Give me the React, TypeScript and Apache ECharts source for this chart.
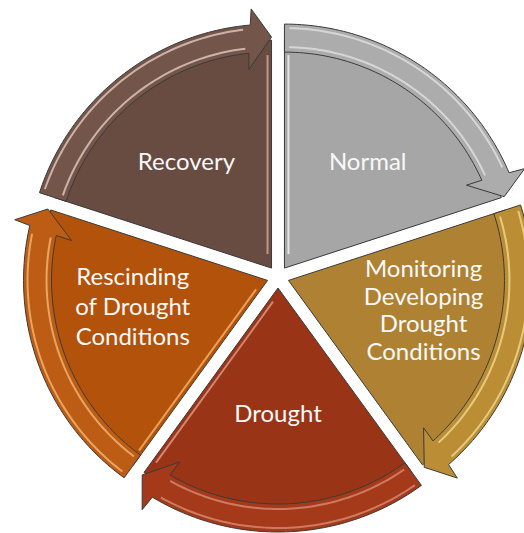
import React, { useEffect, useRef } from "react";
import * as echarts from "echarts";

// ---- data ----
const stages = [
  "Normal",
  "Monitoring\nDeveloping\nDrought\nConditions",
  "Drought",
  "Rescinding\nof Drought\nConditions",
  "Recovery",
];
const stageShares = [1, 1, 1, 1, 1];

// ---- styles ----
const sliceColors = ["#a6a6a6", "#ae8232", "#9a3416", "#b3520b", "#684b41"];
const arrowColors = ["#acacac", "#bb8e36", "#a43a1a", "#bd5c14", "#735549"];
const arrowShine = ["#e4e4e4", "#f6dc94", "#dc9078", "#f8be78", "#ead2ca"];
const edgeShine = ["#f4f4f4", "#d9b060", "#e09a86", "#f6b46a", "#d8a89a"];
const edgeShineSide = ["start", "none", "end", "start", "end"];

// ---- layout ----
const CX = 278;
const CY = 277;
const EXPLODE = 11;
const R_SLICE = 228;
const R_IN = 216;
const R_OUT = 244;
const R_WING_IN = 200;
const R_WING_OUT = 260;
const R_TIP = 231;
const labelRadii = [147, 149, 135, 148, 148];
const labelAngles = [37.6, 102.4, 180, 259, 321.8];
const labelLineHeights = [28, 27.5, 28, 30, 28];

function slices() {
  const total = stageShares.reduce((a, b) => a + b, 0);
  let acc = 0;
  return stageShares.map((v) => {
    const start = (acc / total) * 360;
    acc += v;
    const end = (acc / total) * 360;
    return { start, end, mid: (start + end) / 2 };
  });
}

function pt(ax: number, ay: number, r: number, deg: number) {
  const a = (deg * Math.PI) / 180;
  return [ax + r * Math.sin(a), ay - r * Math.cos(a)];
}

export default function App() {
  const ref = useRef<HTMLDivElement>(null);
  useEffect(() => {
    if (!ref.current) return;
    const chart = echarts.init(ref.current, undefined, { renderer: "svg" });
    const segs = slices();

    const renderArrow = (params: any) => {
      const i = params.dataIndex;
      const s = segs[i];
      const [ax, ay] = pt(CX, CY, EXPLODE, s.mid);
      const P = (r: number, d: number) => pt(ax, ay, r, d);
      const neckOut = s.end - 5.0;
      const neckIn = s.end - 6.0;
      const pts: number[][] = [];
      for (let d = s.start; d < neckOut; d += 1) pts.push(P(R_OUT, d));
      pts.push(P(R_OUT, neckOut));
      pts.push(P(R_WING_OUT, s.end - 4.5));
      pts.push(P(R_TIP, s.end));
      pts.push(P(R_WING_IN, s.end - 6.5));
      pts.push(P(R_IN, neckIn));
      for (let d = neckIn; d > s.start; d -= 1) pts.push(P(R_IN, d));
      pts.push(P(R_IN, s.start));

      const stripe = (r: number) => {
        const sp: number[][] = [];
        for (let d = s.start + 1.2; d < neckOut - 1; d += 1) sp.push(P(r, d));
        return sp;
      };

      const children: any[] = [
        {
          type: "polygon",
          shape: { points: pts },
          style: { fill: arrowColors[i], stroke: "#3a3a3a", lineWidth: 1 },
        },
        {
          type: "polyline",
          shape: { points: stripe(R_OUT - 4) },
          style: { fill: "none", stroke: arrowShine[i], lineWidth: 2, opacity: 0.75 },
        },
        {
          type: "polyline",
          shape: { points: stripe(R_IN + 5) },
          style: { fill: "none", stroke: arrowShine[i], lineWidth: 2, opacity: 0.75 },
        },
      ];

      const side = edgeShineSide[i];
      if (side !== "none") {
        const th = side === "start" ? s.start : s.end;
        const a = (th * Math.PI) / 180;
        const sign = side === "start" ? 1 : -1;
        const ox = sign * 4 * Math.cos(a);
        const oy = sign * 4 * Math.sin(a);
        const p1 = P(14, th);
        const p2 = P(R_IN - 3, th);
        children.push({
          type: "line",
          shape: { x1: p1[0] + ox, y1: p1[1] + oy, x2: p2[0] + ox, y2: p2[1] + oy },
          style: { stroke: edgeShine[i], lineWidth: 2, opacity: 0.8 },
        });
      }

      const [lx, ly] = pt(CX, CY, labelRadii[i], labelAngles[i]);
      children.push({
        type: "text",
        x: lx,
        y: ly,
        style: {
          text: stages[i],
          fill: "#f8f8f8",
          fontFamily: "Lato",
          fontSize: 24,
          lineHeight: labelLineHeights[i],
          align: "center",
          verticalAlign: "middle",
        },
      });
      return { type: "group", children };
    };

    chart.setOption({
      animation: false,
      series: [
        {
          type: "pie",
          center: [CX, CY],
          radius: [0, R_SLICE],
          startAngle: 90,
          clockwise: true,
          selectedMode: "multiple",
          selectedOffset: EXPLODE,
          silent: true,
          z: 2,
          emphasis: { disabled: true },
          itemStyle: { borderColor: "#3a3a3a", borderWidth: 1 },
          label: { show: false },
          labelLine: { show: false },
          data: stages.map((name, i) => ({
            name,
            value: stageShares[i],
            selected: true,
            itemStyle: { color: sliceColors[i] },
            select: { itemStyle: { color: sliceColors[i], borderColor: "#3a3a3a", borderWidth: 1 } },
          })),
        },
        {
          type: "custom",
          coordinateSystem: "none",
          silent: true,
          z: 3,
          renderItem: renderArrow,
          data: stages.map((_, i) => i),
        },
      ],
    });
    return () => chart.dispose();
  }, []);
  return (
    <div
      ref={ref}
      style={{ position: "absolute", left: 0, top: 0, width: 524, height: 533 }}
    />
  );
}
